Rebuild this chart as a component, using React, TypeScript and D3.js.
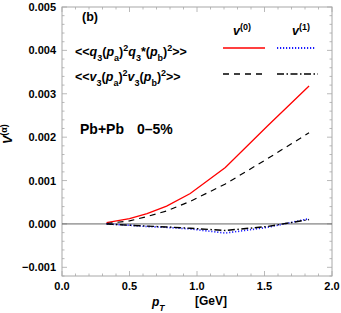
import React, { useRef, useEffect } from 'react'
import * as d3 from 'd3'

// pT grid (GeV) and correlator values
const ptQ = [0.33, 0.5, 0.63, 0.775, 0.95, 1.21, 1.52, 1.83]
const q3v0 = [0.00003, 0.00012, 0.00024, 0.00041, 0.0007, 0.0013, 0.00225, 0.00318]
const q3v1 = [0.0, -0.00003, -0.00006, -0.00008, -0.000115, -0.00021, -0.00008, 0.00012]
const v3v0 = [0.00001, 0.00007, 0.00017, 0.0003, 0.00052, 0.00092, 0.0015, 0.0021]
const v3v1 = [0.0, -0.00003, -0.00005, -0.00007, -0.0001, -0.00015, -0.00006, 0.0001]

const xTicks = [0, 0.5, 1, 1.5, 2]
const yTicks = [-0.001, 0, 0.001, 0.002, 0.003, 0.004, 0.005]

const W = 341, H = 313
const m = { left: 62, right: 9, top: 7, bottom: 37 }

const series = [
  { y: q3v0, color: '#ff0000', dash: null, width: 1.3 },
  { y: v3v0, color: '#000', dash: '6,5', width: 1.2 },
  { y: q3v1, color: '#1a1aff', dash: '1.2,1.8', width: 1.6 },
  { y: v3v1, color: '#000', dash: '7,2.5,1.5,2.5', width: 1.4 },
]

export default function App() {
  const ref = useRef(null)

  useEffect(() => {
    const svg = d3.select(ref.current)
    svg.selectAll('*').remove()

    const x = d3.scaleLinear().domain([0, 2]).range([m.left, W - m.right])
    const y = d3.scaleLinear().domain([-0.0012, 0.005]).range([H - m.bottom, m.top])
    const font = 'Liberation Sans, Arial, sans-serif'

    // frame
    svg.append('rect')
      .attr('x', x(0)).attr('y', y(0.005))
      .attr('width', x(2) - x(0)).attr('height', y(-0.0012) - y(0.005))
      .attr('fill', 'none').attr('stroke', '#a8a8a8').attr('stroke-width', 1)

    // ticks on all four sides
    const g = svg.append('g').attr('stroke', '#a8a8a8').attr('stroke-width', 0.8)
    const xMinor = d3.range(0, 2.001, 0.1)
    xMinor.forEach((t, i) => {
      const len = i % 5 === 0 ? 5 : 2.5
      g.append('line').attr('x1', x(t)).attr('x2', x(t)).attr('y1', y(-0.0012)).attr('y2', y(-0.0012) - len)
      g.append('line').attr('x1', x(t)).attr('x2', x(t)).attr('y1', y(0.005)).attr('y2', y(0.005) + len)
    })
    const yMinor = d3.range(-0.0012, 0.00501, 0.0002)
    yMinor.forEach(t => {
      const major = Math.abs(Math.round(t * 1000) - t * 1000) < 1e-6
      const len = major ? 5 : 2.5
      g.append('line').attr('y1', y(t)).attr('y2', y(t)).attr('x1', x(0)).attr('x2', x(0) + len)
      g.append('line').attr('y1', y(t)).attr('y2', y(t)).attr('x1', x(2)).attr('x2', x(2) - len)
    })

    // zero line
    svg.append('line')
      .attr('x1', x(0)).attr('x2', x(2)).attr('y1', y(0)).attr('y2', y(0))
      .attr('stroke', '#555').attr('stroke-width', 0.9)

    // tick labels
    svg.selectAll('.xl').data(xTicks).join('text')
      .attr('x', d => x(d)).attr('y', y(-0.0012) + 14)
      .attr('text-anchor', 'middle')
      .attr('font-family', font).attr('font-weight', 'bold').attr('font-size', 11)
      .text(d => d3.format('.1f')(d))
    svg.selectAll('.yl').data(yTicks).join('text')
      .attr('x', x(0) - 6).attr('y', d => y(d) + 4)
      .attr('text-anchor', 'end')
      .attr('font-family', font).attr('font-weight', 'bold').attr('font-size', 11)
      .text(d => d === 0 ? '0.000' : d < 0 ? '\u2212' + d3.format('.3f')(-d) : d3.format('.3f')(d))

    // curves
    const line = d3.line()
    series.forEach(s => {
      svg.append('path')
        .datum(ptQ.map((p, i) => [x(p), y(s.y[i])]))
        .attr('d', line)
        .attr('fill', 'none')
        .attr('stroke', s.color)
        .attr('stroke-width', s.width)
        .attr('stroke-dasharray', s.dash)
    })

    // legend samples
    const leg = [
      { x0: 223, x1: 265, yy: 48, s: series[0] },
      { x0: 277, x1: 316, yy: 48, s: series[2] },
      { x0: 223, x1: 265, yy: 74, s: series[1] },
      { x0: 277, x1: 318, yy: 74, s: series[3] },
    ]
    leg.forEach(l => {
      svg.append('line')
        .attr('x1', l.x0).attr('x2', l.x1).attr('y1', l.yy).attr('y2', l.yy)
        .attr('stroke', l.s.color).attr('stroke-width', l.s.width + 0.2)
        .attr('stroke-dasharray', l.s.dash)
    })
  }, [])

  const font = 'Liberation Sans, Arial, sans-serif'
  const tb = { fontFamily: font, fontWeight: 'bold' as const, fontSize: 12.5 }
  const sub = { baselineShift: 'sub', fontSize: 9 }
  const sup = { baselineShift: 'super', fontSize: 9 }

  return (
    <div style={{ position: 'absolute', left: 0, top: 0 }}>
      <svg width={W} height={H} style={{ display: 'block' }}>
        <g ref={ref} />
        <text x={82} y={21} {...tb}>(b)</text>
        <text x={233} y={35} {...tb}>
          <tspan fontStyle="italic">v</tspan><tspan style={sup}>(0)</tspan>
        </text>
        <text x={292} y={35} {...tb}>
          <tspan fontStyle="italic">v</tspan><tspan style={sup}>(1)</tspan>
        </text>
        <text x={75} y={56} {...tb}>
          {'<<'}<tspan fontStyle="italic">q</tspan><tspan style={sub}>3</tspan>
          <tspan>(</tspan><tspan fontStyle="italic">p</tspan><tspan style={sub}>a</tspan><tspan>)</tspan>
          <tspan style={sup}>2</tspan>
          <tspan fontStyle="italic">q</tspan><tspan style={sub}>3</tspan><tspan>*(</tspan>
          <tspan fontStyle="italic">p</tspan><tspan style={sub}>b</tspan><tspan>)</tspan>
          <tspan style={sup}>2</tspan><tspan>{'>>'}</tspan>
        </text>
        <text x={75} y={81} {...tb}>
          {'<<'}<tspan fontStyle="italic">v</tspan><tspan style={sub}>3</tspan>
          <tspan>(</tspan><tspan fontStyle="italic">p</tspan><tspan style={sub}>a</tspan><tspan>)</tspan>
          <tspan style={sup}>2</tspan>
          <tspan fontStyle="italic">v</tspan><tspan style={sub}>3</tspan><tspan>(</tspan>
          <tspan fontStyle="italic">p</tspan><tspan style={sub}>b</tspan><tspan>)</tspan>
          <tspan style={sup}>2</tspan><tspan>{'>>'}</tspan>
        </text>
        <text x={80} y={134} {...tb} fontSize={14}>Pb+Pb</text>
        <text x={137} y={134} {...tb} fontSize={14}>0–5%</text>
        <text transform="translate(11.5,144) rotate(-90)" {...tb}>
          <tspan fontStyle="italic">V</tspan><tspan style={{ baselineShift: 'super', fontSize: 9 }}>(α)</tspan>
        </text>
        <text x={152} y={306} {...tb} fontSize={12}>
          <tspan fontStyle="italic">p</tspan><tspan style={{ baselineShift: 'sub', fontSize: 8.5 }} fontStyle="italic">T</tspan>
        </text>
        <text x={195} y={305} {...tb} fontSize={12}>[GeV]</text>
      </svg>
    </div>
  )
}
